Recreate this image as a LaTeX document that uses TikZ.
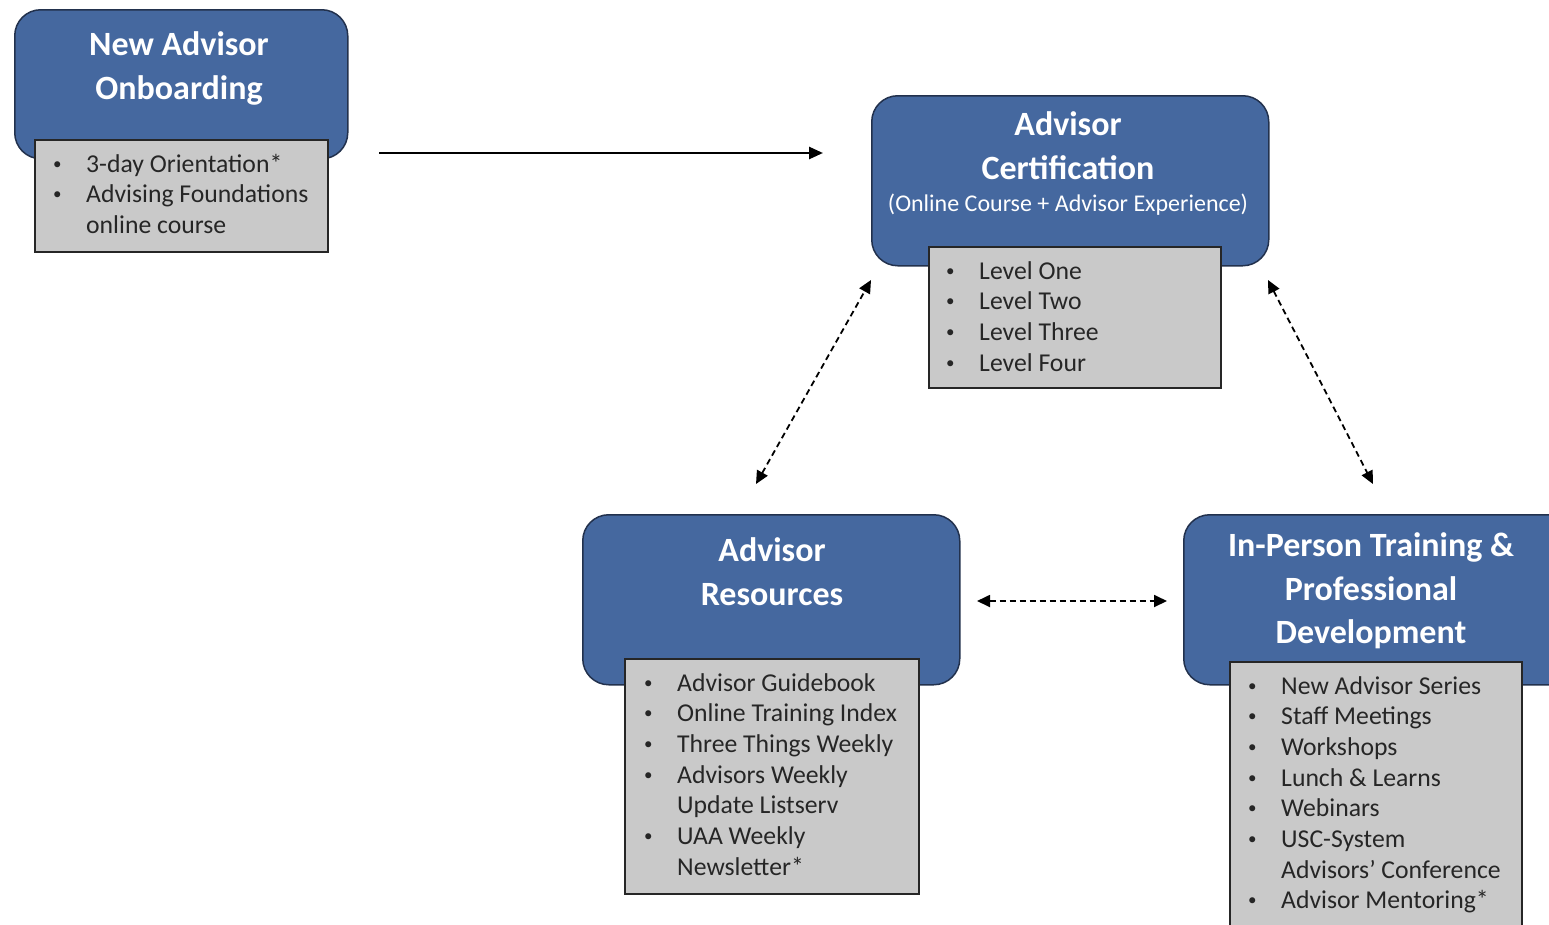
\documentclass[tikz,border=0pt]{standalone}
\usepackage{fontspec}
\setmainfont{Carlito}
\usetikzlibrary{arrows.meta}
\definecolor{boxblue}{HTML}{45689F}
\definecolor{boxedge}{HTML}{22314D}
\definecolor{listgray}{HTML}{C9C9C9}
\definecolor{listtext}{HTML}{262626}
\newcommand{\bl}{\raisebox{3pt}{\fontsize{17}{17}\selectfont\textbullet}}
\begin{document}
\begin{tikzpicture}[x=1pt,y=-1pt,
 bluebox/.style={draw=boxedge, line width=1.5pt, fill=boxblue, rounded corners=26pt, anchor=north west, inner sep=0pt},
 graybox/.style={draw=black!85, line width=1.5pt, fill=listgray, anchor=north west, inner sep=0pt},
 title/.style={text=white, font=\fontsize{34}{44}\selectfont\bfseries, anchor=base, inner sep=0pt},
 subtitle/.style={text=white, font=\fontsize{24}{28}\selectfont, anchor=base, inner sep=0pt},
 itemlist/.style={font=\fontsize{25.7}{30.7}\selectfont, anchor=base west, inner sep=0pt, text=listtext},
 link/.style={line width=2.6pt, -{Triangle[length=14pt,width=12pt]}},
 dlink/.style={line width=1.8pt, dash pattern=on 6pt off 4pt, {Triangle[length=13pt,width=12pt]}-{Triangle[length=13pt,width=12pt]}}]
\useasboundingbox (0,0) rectangle (1549,924);
\clip (0,0) rectangle (1549,924);

% New Advisor Onboarding
\node[bluebox, minimum width=333pt, minimum height=149pt] (onb) at (14,9) {};
\node[graybox, minimum width=293pt, minimum height=112pt] (onbl) at (34,139) {};
\node[title] (onbt1) at (179,55) {New Advisor};
\node[title] (onbt2) at (179,99) {Onboarding};
\node[itemlist] (onbi) at (53,172) {\begin{tabular}[t]{@{}p{33pt}@{}l@{}}
\bl & 3-day Orientation*\\
\bl & Advising Foundations\\
 & online course
\end{tabular}};

% Advisor Certification
\node[bluebox, minimum width=397pt, minimum height=170pt] (cert) at (871,95) {};
\node[graybox, minimum width=292pt, minimum height=141pt] (certl) at (928,246) {};
\node[title] (certt1) at (1068,135) {Advisor};
\node[title] (certt2) at (1068,179) {Certification};
\node[subtitle] (certt3) at (1068,211) {(Online Course + Advisor Experience)};
\node[itemlist] (certi) at (946,279) {\begin{tabular}[t]{@{}p{33pt}@{}l@{}}
\bl & Level One\\
\bl & Level Two\\
\bl & Level Three\\
\bl & Level Four
\end{tabular}};

% Advisor Resources
\node[bluebox, minimum width=377pt, minimum height=170pt] (res) at (582,514) {};
\node[graybox, minimum width=294pt, minimum height=235pt] (resl) at (624,658) {};
\node[title] (rest1) at (772,561) {Advisor};
\node[title] (rest2) at (772,605) {Resources};
\node[itemlist] (resi) at (644,691) {\begin{tabular}[t]{@{}p{33pt}@{}l@{}}
\bl & Advisor Guidebook\\
\bl & Online Training Index\\
\bl & Three Things Weekly\\
\bl & Advisors Weekly\\
 & Update Listserv\\
\bl & UAA Weekly\\
 & Newsletter*
\end{tabular}};

% In-Person Training & Professional Development
\node[bluebox, minimum width=400pt, minimum height=170pt] (ipt) at (1183,514) {};
\node[graybox, minimum width=292pt, minimum height=300pt] (iptl) at (1229,661) {};
\node[title] (iptt1) at (1371,556) {In-Person Training \&};
\node[title] (iptt2) at (1371,600) {Professional};
\node[title] (iptt3) at (1371,643) {Development};
\node[itemlist] (ipti) at (1248,694) {\begin{tabular}[t]{@{}p{33pt}@{}l@{}}
\bl & New Advisor Series\\
\bl & Staff Meetings\\
\bl & Workshops\\
\bl & Lunch \& Learns\\
\bl & Webinars\\
\bl & USC-System\\
 & Advisors’ Conference\\
\bl & Advisor Mentoring*
\end{tabular}};

% connectors
\coordinate (a1) at (379,153);
\coordinate (a2) at (823,153);
\coordinate (b1) at (756,484);
\coordinate (b2) at (871,280);
\coordinate (c1) at (1268,280);
\coordinate (c2) at (1373,484);
\coordinate (d1) at (977,601);
\coordinate (d2) at (1167,601);
\draw[link] (a1) -- (a2);
\draw[dlink] (b1) -- (b2);
\draw[dlink] (c1) -- (c2);
\draw[dlink] (d1) -- (d2);
\end{tikzpicture}
\end{document}
